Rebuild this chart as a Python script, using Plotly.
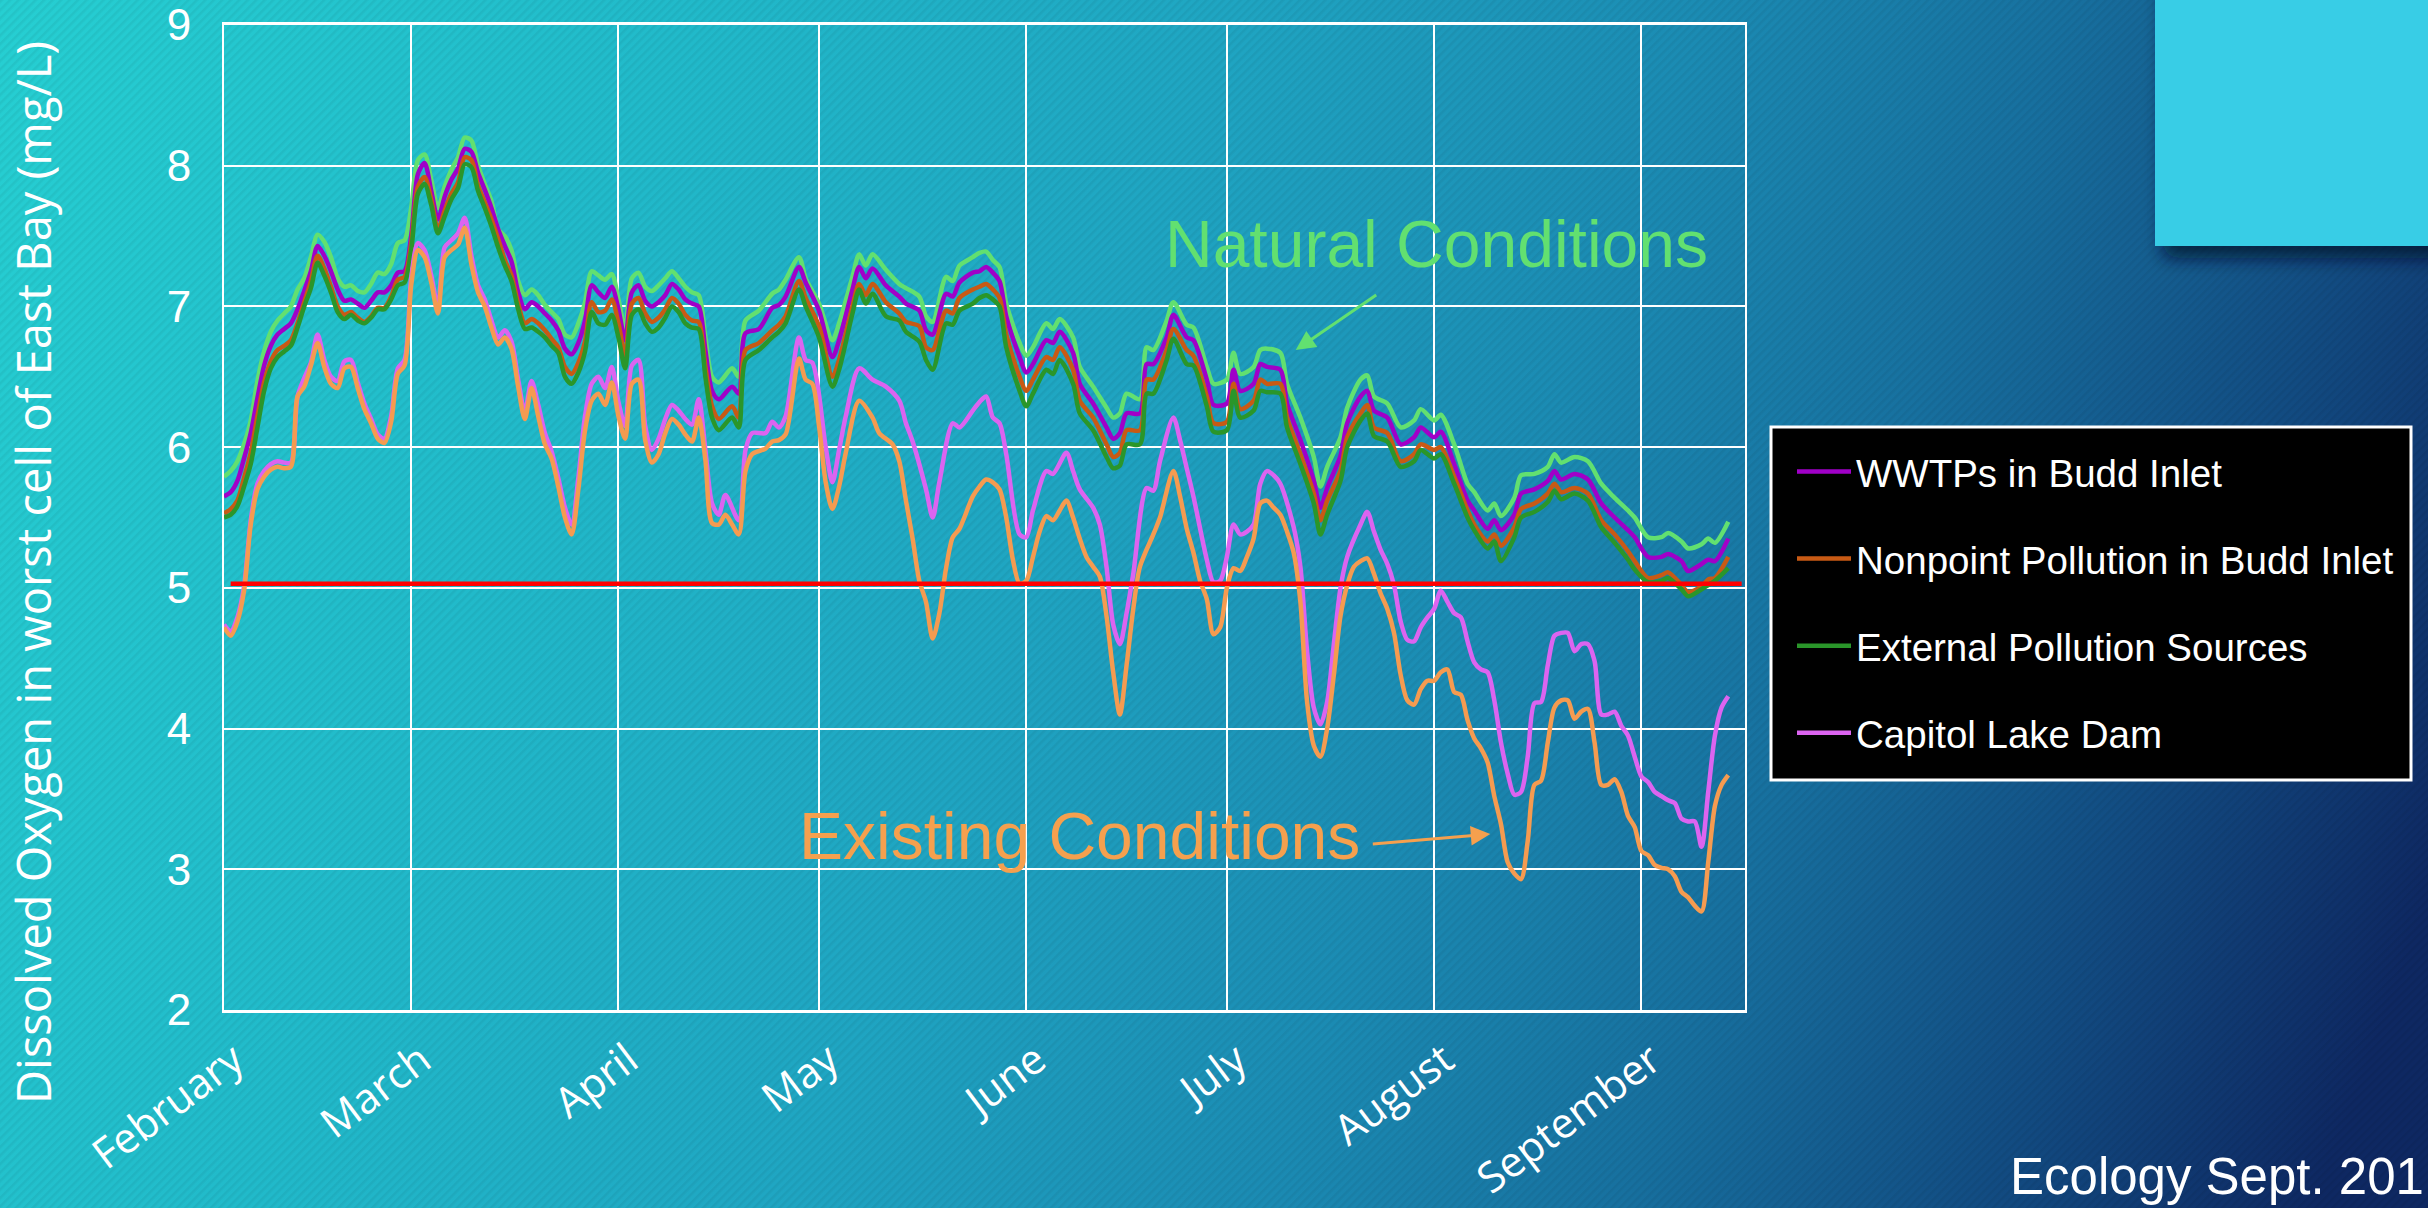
import base64
from datetime import datetime, timedelta
import plotly.graph_objects as go

W, H = 2428, 1208
ML, MR, MT, MB = 224, 683, 25, 198
PW = W - ML - MR
PH = H - MT - MB


def px_x(px):
    return (px - ML) / PW


def px_y(py):
    return (H - MB - py) / PH


START = datetime(1997, 2, 1)


def to_dates(days):
    return [(START + timedelta(days=d)).strftime("%Y-%m-%d %H:%M") for d in days]


# ---------------- data (days after Feb 1) ----------------
month_ticks = ["1997-02-01", "1997-03-01", "1997-04-01", "1997-05-01",
               "1997-06-01", "1997-07-01", "1997-08-01", "1997-09-01"]
month_labels = ["February", "March", "April", "May", "June", "July", "August", "September"]
y_ticks = [2, 3, 4, 5, 6, 7, 8, 9]

day_upper = list(range(0, 72)) + [
    72, 73, 74, 76, 77, 78, 80, 82, 83, 84,
    86, 87, 89, 91, 92, 94, 95, 96, 97, 99,
    101, 102, 104, 105, 106, 108, 109, 110, 112, 113,
    114, 115, 116, 117, 119, 120, 121, 123, 124, 125,
    127, 128, 130, 132, 133, 134, 135, 137, 138, 139,
    141, 142, 144, 145, 147, 148, 150, 151, 152, 154,
    155, 156, 158, 159, 161, 163, 164, 165, 167, 168,
    170, 171, 172, 174, 176, 178, 179, 181, 182, 184,
    186, 187, 189, 190, 191, 193, 194, 196, 198, 199,
    200, 202, 204, 206, 208, 210, 211, 213, 215, 216,
    218, 219, 221, 222, 223, 225]

natural = [
    5.79, 5.83, 5.90, 6.02, 6.19, 6.47, 6.68, 6.82, 6.90, 6.95,
    7.00, 7.12, 7.20, 7.35, 7.51, 7.46, 7.35, 7.20, 7.14, 7.15,
    7.11, 7.10, 7.16, 7.24, 7.23, 7.30, 7.45, 7.47, 7.70, 8.04,
    8.08, 7.90, 7.70, 7.85, 7.97, 8.06, 8.20, 8.18, 8.00, 7.87,
    7.75, 7.55, 7.50, 7.40, 7.18, 7.08, 7.12, 7.08, 7.01, 6.96,
    6.91, 6.80, 6.78, 6.88, 7.03, 7.25, 7.22, 7.19, 7.23, 7.05,
    6.84, 7.20, 7.24, 7.14, 7.11, 7.15, 7.20, 7.25, 7.20, 7.14,
    7.10, 7.08,
    6.78, 6.50, 6.46, 6.56, 6.50, 6.90, 6.97, 7.09, 7.12, 7.19,
    7.35, 7.20, 7.02, 6.76, 6.88, 7.21, 7.37, 7.29, 7.37, 7.26,
    7.16, 7.13, 7.07, 6.93, 6.89, 7.21, 7.18, 7.29, 7.35, 7.38,
    7.39, 7.33, 7.28, 7.02, 6.74, 6.65, 6.71, 6.88, 6.84, 6.91,
    6.78, 6.57, 6.43, 6.28, 6.21, 6.24, 6.38, 6.34, 6.71, 6.69,
    6.90, 7.03, 6.87, 6.85, 6.57, 6.45, 6.48, 6.67, 6.52, 6.57,
    6.69, 6.70, 6.67, 6.45, 6.21, 5.93, 5.72, 5.86, 6.07, 6.28,
    6.48, 6.51, 6.36, 6.31, 6.14, 6.19, 6.27, 6.19, 6.23, 6.02,
    5.74, 5.68, 5.55, 5.60, 5.51, 5.64, 5.80, 5.81, 5.86, 5.95,
    5.89, 5.93, 5.90, 5.74, 5.64, 5.55, 5.50, 5.36, 5.36, 5.39,
    5.33, 5.28, 5.31, 5.35, 5.32, 5.47]

wwtp = [
    5.65, 5.68, 5.76, 5.92, 6.10, 6.35, 6.58, 6.72, 6.80, 6.84,
    6.88, 6.98, 7.11, 7.25, 7.43, 7.36, 7.25, 7.12, 7.04, 7.05,
    7.02, 6.99, 7.04, 7.10, 7.10, 7.15, 7.24, 7.25, 7.50, 7.94,
    8.02, 7.82, 7.62, 7.78, 7.90, 7.98, 8.12, 8.10, 7.95, 7.83,
    7.70, 7.55, 7.43, 7.32, 7.10, 6.98, 7.03, 7.00, 6.95, 6.90,
    6.83, 6.70, 6.66, 6.74, 6.90, 7.15, 7.10, 7.06, 7.14, 6.98,
    6.76, 7.10, 7.15, 7.04, 7.00, 7.03, 7.08, 7.16, 7.12, 7.05,
    7.02, 7.00,
    6.69, 6.40, 6.34, 6.43, 6.38, 6.81, 6.84, 6.99, 7.01, 7.07,
    7.28, 7.17, 6.97, 6.64, 6.76, 7.12, 7.28, 7.20, 7.27, 7.15,
    7.07, 7.02, 6.97, 6.83, 6.80, 7.09, 7.07, 7.17, 7.24, 7.25,
    7.28, 7.24, 7.18, 6.93, 6.64, 6.53, 6.59, 6.76, 6.74, 6.82,
    6.67, 6.45, 6.31, 6.14, 6.06, 6.10, 6.24, 6.24, 6.59, 6.59,
    6.78, 6.94, 6.78, 6.76, 6.48, 6.30, 6.31, 6.55, 6.40, 6.45,
    6.59, 6.57, 6.55, 6.31, 6.05, 5.76, 5.57, 5.71, 5.94, 6.17,
    6.36, 6.40, 6.26, 6.21, 6.02, 6.07, 6.14, 6.07, 6.11, 5.88,
    5.62, 5.55, 5.42, 5.48, 5.41, 5.52, 5.67, 5.70, 5.76, 5.83,
    5.77, 5.81, 5.77, 5.60, 5.50, 5.41, 5.36, 5.22, 5.22, 5.24,
    5.19, 5.12, 5.17, 5.20, 5.19, 5.35]

nonpoint = [
    5.53, 5.56, 5.62, 5.78, 5.96, 6.22, 6.46, 6.61, 6.69, 6.72,
    6.76, 6.88, 7.03, 7.18, 7.36, 7.27, 7.14, 7.00, 6.94, 6.96,
    6.92, 6.89, 6.93, 6.99, 6.99, 7.07, 7.19, 7.21, 7.45, 7.85,
    7.92, 7.76, 7.55, 7.68, 7.80, 7.88, 8.06, 8.04, 7.86, 7.74,
    7.62, 7.48, 7.33, 7.22, 7.02, 6.88, 6.91, 6.88, 6.83, 6.77,
    6.71, 6.57, 6.52, 6.60, 6.75, 7.03, 6.96, 6.97, 7.05, 6.88,
    6.65, 7.02, 7.06, 6.95, 6.89, 6.92, 6.98, 7.06, 7.02, 6.94,
    6.90, 6.89,
    6.57, 6.29, 6.20, 6.29, 6.21, 6.69, 6.74, 6.83, 6.87, 6.93,
    7.18, 7.06, 6.86, 6.50, 6.62, 7.00, 7.16, 7.08, 7.16, 7.03,
    6.95, 6.89, 6.86, 6.71, 6.69, 6.97, 6.95, 7.06, 7.12, 7.14,
    7.16, 7.12, 7.06, 6.80, 6.50, 6.40, 6.48, 6.64, 6.62, 6.71,
    6.55, 6.33, 6.21, 6.02, 5.93, 5.96, 6.12, 6.12, 6.48, 6.48,
    6.69, 6.84, 6.69, 6.65, 6.36, 6.17, 6.18, 6.45, 6.27, 6.33,
    6.48, 6.45, 6.45, 6.21, 5.95, 5.67, 5.48, 5.62, 5.83, 6.07,
    6.24, 6.30, 6.14, 6.10, 5.90, 5.95, 6.02, 5.98, 6.00, 5.79,
    5.55, 5.45, 5.33, 5.38, 5.30, 5.43, 5.56, 5.60, 5.67, 5.74,
    5.68, 5.71, 5.67, 5.48, 5.38, 5.26, 5.19, 5.07, 5.09, 5.11,
    5.02, 4.97, 5.01, 5.06, 5.07, 5.22]

external = [
    5.50, 5.52, 5.58, 5.72, 5.88, 6.14, 6.40, 6.56, 6.64, 6.68,
    6.72, 6.85, 7.00, 7.13, 7.31, 7.22, 7.10, 6.96, 6.91, 6.94,
    6.90, 6.88, 6.92, 6.98, 6.98, 7.05, 7.15, 7.17, 7.40, 7.80,
    7.87, 7.72, 7.52, 7.64, 7.76, 7.84, 8.01, 7.99, 7.82, 7.70,
    7.57, 7.42, 7.29, 7.18, 6.98, 6.84, 6.85, 6.82, 6.78, 6.72,
    6.67, 6.50, 6.45, 6.53, 6.68, 6.96, 6.88, 6.87, 6.94, 6.78,
    6.56, 6.94, 6.98, 6.88, 6.82, 6.85, 6.92, 7.00, 6.96, 6.88,
    6.85, 6.84,
    6.50, 6.21, 6.12, 6.21, 6.14, 6.62, 6.69, 6.78, 6.82, 6.88,
    7.12, 7.00, 6.78, 6.43, 6.55, 6.95, 7.12, 7.02, 7.09, 6.93,
    6.90, 6.82, 6.75, 6.62, 6.55, 6.88, 6.87, 6.97, 7.02, 7.06,
    7.08, 7.05, 7.00, 6.71, 6.40, 6.29, 6.38, 6.55, 6.52, 6.62,
    6.45, 6.24, 6.12, 5.93, 5.85, 5.87, 6.02, 6.02, 6.38, 6.38,
    6.62, 6.77, 6.59, 6.58, 6.29, 6.11, 6.12, 6.40, 6.21, 6.26,
    6.40, 6.39, 6.38, 6.14, 5.88, 5.60, 5.38, 5.52, 5.76, 6.00,
    6.19, 6.24, 6.08, 6.04, 5.86, 5.90, 5.98, 5.92, 5.95, 5.74,
    5.50, 5.41, 5.28, 5.33, 5.19, 5.36, 5.50, 5.54, 5.61, 5.69,
    5.63, 5.67, 5.62, 5.43, 5.32, 5.20, 5.13, 5.04, 5.05, 5.07,
    4.99, 4.94, 4.99, 5.02, 5.05, 5.14]

day_capitol = list(range(0, 72)) + [
    72, 73, 74, 75, 77, 78, 79, 81, 82, 83,
    84, 86, 87, 88, 90, 91, 92, 93, 95, 97,
    99, 101, 102, 103, 105, 106, 107, 109, 110, 112,
    113, 114, 115, 116, 117, 119, 120, 121, 123, 124,
    126, 127, 128, 130, 131, 132, 133, 134, 135, 136,
    138, 139, 140, 142, 143, 144, 145, 147, 148, 149,
    150, 151, 152, 153, 154, 155, 156, 157, 158, 160,
    161, 162, 163, 164, 165, 166, 167, 168, 170, 171] + list(range(172, 226))

capitol = [
    4.74, 4.69, 4.79, 5.01, 5.48, 5.74, 5.83, 5.88, 5.90, 5.89,
    5.89, 6.36, 6.49, 6.60, 6.80, 6.62, 6.50, 6.47, 6.61, 6.62,
    6.46, 6.31, 6.20, 6.09, 6.06, 6.22, 6.56, 6.62, 7.20, 7.45,
    7.40, 7.22, 7.00, 7.42, 7.47, 7.52, 7.63, 7.36, 7.15, 7.05,
    6.90, 6.78, 6.83, 6.75, 6.48, 6.25, 6.47, 6.30, 6.10, 5.97,
    5.78, 5.57, 5.45, 5.78, 6.22, 6.45, 6.50, 6.42, 6.57, 6.32,
    6.15, 6.58, 6.62, 6.15, 5.98, 6.06, 6.20, 6.30, 6.26, 6.20,
    6.16, 6.34,
    5.98, 5.60, 5.52, 5.66, 5.48, 5.98, 6.10, 6.10, 6.18, 6.14,
    6.22, 6.78, 6.62, 6.60, 6.00, 5.75, 5.98, 6.22, 6.56, 6.48,
    6.43, 6.33, 6.17, 6.04, 5.70, 5.50, 5.75, 6.17, 6.14, 6.26,
    6.32, 6.36, 6.21, 6.17, 5.95, 5.38, 5.36, 5.55, 5.83, 5.81,
    5.96, 5.83, 5.70, 5.57, 5.45, 5.15, 4.74, 4.60, 4.82, 5.10,
    5.71, 5.69, 5.90, 6.21, 6.05, 5.85, 5.65, 5.20, 5.04, 5.05,
    5.22, 5.45, 5.38, 5.40, 5.45, 5.74, 5.83, 5.80, 5.74, 5.43,
    5.15, 4.55, 4.15, 4.03, 4.19, 4.60, 5.00, 5.22, 5.45, 5.54,
    5.40, 5.27, 5.17, 5.02, 4.76, 4.63, 4.62, 4.72, 4.79, 4.85,
    4.98, 4.90, 4.82, 4.79, 4.62, 4.47, 4.42, 4.40, 4.20, 3.90,
    3.68, 3.53, 3.55, 3.80, 4.18, 4.19, 4.45, 4.66, 4.68, 4.68,
    4.55, 4.60, 4.60, 4.48, 4.10, 4.10, 4.12, 4.02, 3.95, 3.80,
    3.66, 3.62, 3.55, 3.52, 3.49, 3.47, 3.36, 3.34, 3.34, 3.16,
    3.55, 3.95, 4.15, 4.23]

day_existing = (list(range(0, 80)) + list(range(81, 85)) + list(range(86, 94))
                + [95, 97, 98] + list(range(100, 111)) + list(range(112, 138))
                + [139, 140] + list(range(142, 226)))

existing = [
    4.72, 4.66, 4.76, 4.98, 5.45, 5.70, 5.79, 5.84, 5.86, 5.85,
    5.86, 6.36, 6.43, 6.58, 6.74, 6.57, 6.45, 6.42, 6.56, 6.57,
    6.42, 6.27, 6.17, 6.06, 6.03, 6.18, 6.52, 6.58, 7.15, 7.40,
    7.35, 7.17, 6.95, 7.35, 7.40, 7.44, 7.56, 7.30, 7.10, 7.00,
    6.85, 6.73, 6.78, 6.70, 6.43, 6.20, 6.42, 6.22, 6.02, 5.92,
    5.72, 5.50, 5.38, 5.70, 6.12, 6.33, 6.38, 6.30, 6.46, 6.22,
    6.06, 6.45, 6.48, 6.05, 5.89, 5.95, 6.10, 6.20, 6.16, 6.09,
    6.04, 6.21,
    5.91, 5.46, 5.45, 5.52, 5.45, 5.38, 5.83, 5.95,
    5.99, 6.04, 6.05, 6.09,
    6.63, 6.48, 6.45, 6.15, 5.75, 5.56, 5.72, 5.96,
    6.33, 6.21, 6.10,
    6.02, 5.90, 5.62, 5.35, 5.05, 4.90, 4.64, 4.82, 5.14, 5.36, 5.42,
    5.65, 5.72, 5.77, 5.75, 5.70, 5.50, 5.20, 5.03, 5.05, 5.22,
    5.40, 5.51, 5.48, 5.55, 5.62, 5.50, 5.35, 5.22, 5.15, 5.08,
    4.80, 4.40, 4.10, 4.45, 4.85, 5.15,
    5.38, 5.50,
    5.83, 5.65, 5.42, 5.25, 5.05, 4.92, 4.67, 4.72, 5.00, 5.14,
    5.12, 5.22, 5.35, 5.60, 5.62, 5.57, 5.52, 5.40, 5.25, 4.90,
    4.19, 3.88, 3.80, 4.00, 4.38, 4.80, 5.02, 5.15, 5.19, 5.21,
    5.10, 4.96, 4.85, 4.68, 4.38, 4.20, 4.17, 4.28, 4.34, 4.34,
    4.40, 4.42, 4.26, 4.24, 4.06, 3.93, 3.86, 3.76, 3.52, 3.32,
    3.05, 2.97, 2.93, 3.20, 3.60, 3.63, 3.90, 4.15, 4.20, 4.20,
    4.07, 4.12, 4.14, 3.90, 3.60, 3.60, 3.64, 3.55, 3.38, 3.30,
    3.13, 3.10, 3.03, 3.01, 3.00, 2.95, 2.84, 2.80, 2.74, 2.70,
    3.05, 3.45, 3.60, 3.67]

standard_days = [1, 227]
standard_value = [5.03, 5.03]

for arr in (natural, wwtp, nonpoint, external):
    assert len(arr) == len(day_upper), (len(arr), len(day_upper))
assert len(capitol) == len(day_capitol), (len(capitol), len(day_capitol))
assert len(existing) == len(day_existing), (len(existing), len(day_existing))

# ---------------- background ----------------
svg = f'''<svg xmlns="http://www.w3.org/2000/svg" width="{W}" height="{H}" viewBox="0 0 {W} {H}">
<defs>
<linearGradient id="g" gradientUnits="userSpaceOnUse" x1="0" y1="0" x2="{W}" y2="900">
<stop offset="0" stop-color="#26CFD2"/>
<stop offset="0.25" stop-color="#21BACA"/>
<stop offset="0.45" stop-color="#1FA5C2"/>
<stop offset="0.62" stop-color="#1B8BB3"/>
<stop offset="0.75" stop-color="#17709F"/>
<stop offset="0.88" stop-color="#124C82"/>
<stop offset="1" stop-color="#0E2862"/>
</linearGradient>
<pattern id="p" width="6" height="6" patternUnits="userSpaceOnUse" patternTransform="rotate(45)">
<rect x="0" y="0" width="2.5" height="6" fill="#000000" fill-opacity="0.05"/>
</pattern>
<filter id="s" x="-30%" y="-30%" width="160%" height="170%">
<feDropShadow dx="8" dy="12" stdDeviation="9" flood-color="#03182a" flood-opacity="0.75"/>
</filter>
</defs>
<rect width="{W}" height="{H}" fill="url(#g)"/>
<rect width="{W}" height="{H}" fill="url(#p)"/>
<rect x="2155" y="-40" width="320" height="286" fill="#38CDE6" filter="url(#s)"/>
</svg>'''
bg_src = "data:image/svg+xml;base64," + base64.b64encode(svg.encode()).decode()

# ---------------- figure ----------------
fig = go.Figure()


def add_line(name, days, vals, color, width, legend):
    fig.add_trace(go.Scatter(
        x=to_dates(days), y=vals, mode="lines", name=name,
        line=dict(color=color, width=width, shape="spline", smoothing=0.8),
        showlegend=legend, legendgroup=name, hoverinfo="skip"))


add_line("Natural Conditions", day_upper, natural, "#62E070", 4.5, False)
add_line("WWTPs in Budd Inlet", day_upper, wwtp, "#A000C8", 4.5, True)
add_line("Nonpoint Pollution in Budd Inlet", day_upper, nonpoint, "#C85A14", 4.5, True)
add_line("External Pollution Sources", day_upper, external, "#2A962A", 4.5, True)
add_line("Capitol Lake Dam", day_capitol, capitol, "#DC64F0", 4.5, True)
add_line("Existing Conditions", day_existing, existing, "#F59B50", 4.5, False)

fig.add_trace(go.Scatter(
    x=to_dates(standard_days), y=standard_value, mode="lines",
    line=dict(color="#FF0000", width=4.5), showlegend=False, hoverinfo="skip"))

TICK_FONT = "Open Sans, Liberation Sans, sans-serif"
SANS = "Liberation Sans, Arial, sans-serif"

fig.update_layout(
    width=W, height=H,
    margin=dict(l=ML, r=MR, t=MT, b=MB, autoexpand=False),
    paper_bgcolor="#1C8FB6",
    plot_bgcolor="rgba(0,0,0,0)",
    images=[dict(source=bg_src, xref="paper", yref="paper",
                 x=px_x(0), y=px_y(0), sizex=W / PW, sizey=H / PH,
                 xanchor="left", yanchor="top", sizing="stretch", layer="below")],
    xaxis=dict(
        type="date",
        range=["1997-02-01", "1997-09-16 12:00"],
        tickvals=month_ticks, ticktext=month_labels,
        tickangle=-37,
        tickfont=dict(family=TICK_FONT, size=42, color="white"),
        ticks="outside", ticklen=6, tickcolor="rgba(0,0,0,0)",
        ticklabelshift=10,
        ticklabeloverflow="allow",
        showgrid=True, gridcolor="white", gridwidth=2,
        showline=True, linecolor="white", linewidth=3, mirror=True,
        zeroline=False, fixedrange=True,
    ),
    yaxis=dict(
        range=[2, 9], tickvals=y_ticks,
        tickfont=dict(family=SANS, size=44, color="white"),
        ticks="outside", ticklen=22, tickcolor="rgba(0,0,0,0)",
        ticklabeloverflow="allow",
        showgrid=True, gridcolor="white", gridwidth=2,
        showline=True, linecolor="white", linewidth=2, mirror=True,
        zeroline=False, fixedrange=True,
    ),
    legend=dict(
        x=px_x(1792), y=px_y(440), xanchor="left", yanchor="top",
        bgcolor="rgba(0,0,0,0)", borderwidth=0,
        font=dict(family=SANS, size=38.5, color="white"),
        itemwidth=54, tracegroupgap=34, traceorder="grouped",
    ),
    shapes=[dict(type="rect", xref="paper", yref="paper",
                 x0=px_x(1771), x1=px_x(2411), y0=px_y(780), y1=px_y(427),
                 fillcolor="black", line=dict(color="white", width=3), layer="above")],
    annotations=[
        dict(text="Dissolved Oxygen in worst cell of East Bay (mg/L)",
             xref="paper", yref="paper", x=px_x(33), y=px_y(573),
             xanchor="center", yanchor="middle", textangle=-90, showarrow=False,
             font=dict(family=TICK_FONT, size=47, color="white")),
        dict(text="Natural Conditions", xref="paper", yref="paper",
             x=px_x(1436), y=px_y(244), xanchor="center", yanchor="middle",
             showarrow=False, font=dict(family=SANS, size=66, color="#62E070")),
        dict(text="Existing Conditions", xref="paper", yref="paper",
             x=px_x(1079), y=px_y(836), xanchor="center", yanchor="middle",
             showarrow=False, font=dict(family=SANS, size=66, color="#F5A04E")),
        dict(text="", x=to_dates([160.3])[0], y=6.69, xref="x", yref="y",
             showarrow=True, ax=82, ay=-56, arrowhead=2, arrowsize=1.3,
             arrowwidth=3, arrowcolor="#62E070"),
        dict(text="", x=to_dates([189.4])[0], y=3.25, xref="x", yref="y",
             showarrow=True, ax=-119, ay=10, arrowhead=2, arrowsize=1.3,
             arrowwidth=3, arrowcolor="#F5A04E"),
        dict(text="Ecology Sept. 201", xref="paper", yref="paper",
             x=px_x(2008), y=px_y(1207), xanchor="left", yanchor="bottom",
             showarrow=False, font=dict(family=SANS, size=51, color="white")),
    ],
)

fig.write_html(
    "out.html",
    config={"displayModeBar": False},
    post_script="document.body.style.margin='0px';document.body.style.overflow='hidden';",
)
